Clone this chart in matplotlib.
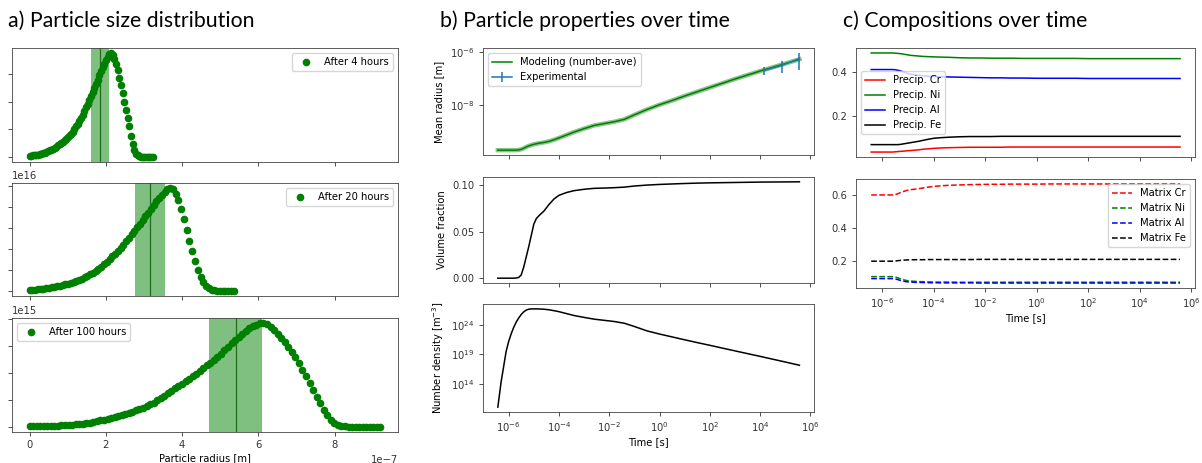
import numpy as np
import matplotlib
matplotlib.use('Agg')
import matplotlib.pyplot as plt
from matplotlib.ticker import MultipleLocator, NullLocator

FIG_W, FIG_H = 1202, 463

# ---- a) particle size distributions (relative height, peak = 1) ----
R_MAX = [3.23e-7, 5.35e-7, 9.2e-7]
PEAK = [3.76e17, 4.9e16, 7.7e15]
HOURS = [4, 20, 100]
MEAN_R = [1.85e-7, 3.16e-7, 5.40e-7]
SPREAD_R = [0.245e-7, 0.40e-7, 0.685e-7]

PSD_4H = [0.010, 0.012, 0.013, 0.015, 0.018, 0.021, 0.025, 0.029, 0.035, 0.040,
          0.047, 0.054, 0.062, 0.070, 0.079, 0.089, 0.099, 0.110, 0.121, 0.133,
          0.146, 0.160, 0.175, 0.191, 0.207, 0.225, 0.244, 0.267, 0.294, 0.320,
          0.347, 0.375, 0.407, 0.441, 0.477, 0.513, 0.549, 0.587, 0.627, 0.667,
          0.706, 0.746, 0.786, 0.825, 0.864, 0.900, 0.932, 0.963, 0.989, 1.000,
          0.980, 0.943, 0.895, 0.835, 0.765, 0.690, 0.612, 0.532, 0.452, 0.372,
          0.295, 0.200, 0.125, 0.065, 0.030, 0.013, 0.006, 0.003, 0.002, 0.001,
          0.001, 0.0, 0.0, 0.0, 0.0]
PSD_20H = [0.010, 0.011, 0.013, 0.016, 0.019, 0.022, 0.026, 0.030, 0.034, 0.039,
           0.044, 0.050, 0.056, 0.063, 0.071, 0.079, 0.088, 0.098, 0.108, 0.119,
           0.133, 0.146, 0.161, 0.177, 0.195, 0.215, 0.236, 0.260, 0.285, 0.310,
           0.336, 0.363, 0.391, 0.420, 0.451, 0.483, 0.516, 0.550, 0.584, 0.618,
           0.653, 0.688, 0.724, 0.760, 0.797, 0.834, 0.870, 0.905, 0.937, 0.965,
           0.988, 1.000, 0.988, 0.945, 0.885, 0.800, 0.700, 0.595, 0.490, 0.385,
           0.290, 0.205, 0.135, 0.082, 0.046, 0.024, 0.012, 0.006, 0.003, 0.002,
           0.001, 0.0, 0.0, 0.0, 0.0]
PSD_100H = [0.004, 0.004, 0.005, 0.006, 0.007, 0.008, 0.009, 0.010, 0.011, 0.013,
            0.015, 0.017, 0.020, 0.023, 0.026, 0.030, 0.035, 0.041, 0.047, 0.054,
            0.062, 0.070, 0.078, 0.086, 0.095, 0.104, 0.113, 0.123, 0.134, 0.146,
            0.158, 0.170, 0.183, 0.198, 0.215, 0.233, 0.254, 0.277, 0.301, 0.324,
            0.347, 0.370, 0.393, 0.416, 0.440, 0.465, 0.489, 0.513, 0.539, 0.565,
            0.591, 0.618, 0.646, 0.675, 0.706, 0.738, 0.771, 0.803, 0.835, 0.866,
            0.896, 0.924, 0.948, 0.968, 0.985, 0.996, 0.998, 0.987, 0.962, 0.930,
            0.895, 0.857, 0.815, 0.770, 0.722, 0.672, 0.615, 0.550, 0.485, 0.418,
            0.352, 0.288, 0.225, 0.165, 0.112, 0.070, 0.040, 0.022, 0.011, 0.006,
            0.003, 0.002, 0.001, 0.001, 0.0, 0.0, 0.0, 0.0, 0.0, 0.0]
PSD = [PSD_4H, PSD_20H, PSD_100H]

# ---- b) and c) time series, sampled on log10(time [s]) ----
LOG_TIME = [-6.43, -6.3, -6.2, -6.1, -6.0, -5.9, -5.8, -5.7, -5.6, -5.5,
            -5.4, -5.3, -5.2, -5.1, -5.0, -4.9, -4.8, -4.6, -4.4, -4.2,
            -4.0, -3.7, -3.4, -3.0, -2.6, -2.2, -1.8, -1.4, -1.0, -0.5,
            0.0, 0.5, 1.0, 1.5, 2.0, 2.5, 3.0, 3.5, 4.0, 4.5, 5.0, 5.56]

LOG_MEAN_RADIUS = [-9.70, -9.70, -9.70, -9.70, -9.70, -9.70, -9.70, -9.70, -9.69, -9.67,
                   -9.63, -9.58, -9.54, -9.51, -9.48, -9.46, -9.44, -9.41, -9.37, -9.31,
                   -9.24, -9.13, -9.02, -8.89, -8.77, -8.70, -8.63, -8.54, -8.37, -8.17,
                   -7.99, -7.83, -7.66, -7.50, -7.34, -7.18, -7.02, -6.87, -6.72, -6.58,
                   -6.44, -6.28]
VOLUME_FRACTION = [0.0, 0.0, 0.0, 0.0, 0.0, 0.0, 0.0, 0.0002, 0.0008, 0.0035,
                   0.012, 0.023, 0.034, 0.046, 0.058, 0.064, 0.067, 0.072, 0.079, 0.085,
                   0.089, 0.092, 0.094, 0.0955, 0.0965, 0.0968, 0.0972, 0.0978, 0.0990, 0.1000,
                   0.1007, 0.1012, 0.1017, 0.1021, 0.1024, 0.1026, 0.1028, 0.1030, 0.1032, 0.1033,
                   0.1034, 0.1035]
LOG_NUMBER_DENSITY = [10.0, 14.3, 16.9, 19.5, 21.2, 22.5, 23.6, 24.5, 25.2, 25.8,
                      26.25, 26.55, 26.7, 26.75, 26.75, 26.75, 26.74, 26.70, 26.60, 26.45,
                      26.28, 25.95, 25.62, 25.30, 25.0, 24.8, 24.6, 24.3, 23.75, 23.0,
                      22.46, 21.97, 21.48, 21.0, 20.54, 20.06, 19.59, 19.12, 18.65, 18.17,
                      17.69, 17.14]

EXP_TIME = [1.44e4, 7.2e4, 3.6e5]
EXP_RADIUS = [2.0e-7, 3.1e-7, 5.6e-7]
EXP_ERR = [0.7e-7, 1.5e-7, 3.6e-7]

PRECIP_CR = [0.034, 0.034, 0.034, 0.034, 0.034, 0.034, 0.034, 0.034, 0.034, 0.035,
             0.036, 0.037, 0.038, 0.039, 0.040, 0.041, 0.042, 0.044, 0.047, 0.049,
             0.051, 0.053, 0.054, 0.055, 0.056, 0.056, 0.056, 0.056, 0.057, 0.057,
             0.057, 0.057, 0.057, 0.057, 0.057, 0.057, 0.057, 0.057, 0.057, 0.057,
             0.057, 0.057]
PRECIP_NI = [0.488, 0.488, 0.488, 0.488, 0.488, 0.488, 0.488, 0.488, 0.488, 0.487,
             0.486, 0.485, 0.483, 0.481, 0.479, 0.477, 0.476, 0.474, 0.472, 0.471,
             0.470, 0.469, 0.468, 0.466, 0.465, 0.465, 0.464, 0.464, 0.464, 0.463,
             0.463, 0.463, 0.463, 0.463, 0.462, 0.462, 0.462, 0.462, 0.462, 0.462,
             0.462, 0.462]
PRECIP_AL = [0.412, 0.412, 0.412, 0.412, 0.412, 0.412, 0.412, 0.412, 0.412, 0.411,
             0.409, 0.406, 0.402, 0.398, 0.394, 0.391, 0.389, 0.386, 0.383, 0.381,
             0.380, 0.379, 0.378, 0.377, 0.376, 0.375, 0.374, 0.374, 0.373, 0.373,
             0.372, 0.372, 0.372, 0.372, 0.371, 0.371, 0.371, 0.371, 0.371, 0.371,
             0.371, 0.371]
PRECIP_FE = [0.068, 0.068, 0.068, 0.068, 0.068, 0.068, 0.068, 0.068, 0.068, 0.068,
             0.068, 0.069, 0.071, 0.073, 0.075, 0.077, 0.079, 0.083, 0.088, 0.093,
             0.097, 0.100, 0.102, 0.104, 0.105, 0.105, 0.105, 0.106, 0.106, 0.106,
             0.106, 0.106, 0.106, 0.106, 0.106, 0.106, 0.106, 0.106, 0.106, 0.106,
             0.106, 0.106]
MATRIX_CR = [0.603, 0.603, 0.603, 0.603, 0.603, 0.603, 0.603, 0.603, 0.603, 0.605,
             0.610, 0.617, 0.623, 0.628, 0.632, 0.635, 0.637, 0.641, 0.646, 0.651,
             0.655, 0.659, 0.662, 0.664, 0.666, 0.667, 0.668, 0.668, 0.669, 0.669,
             0.669, 0.670, 0.670, 0.670, 0.670, 0.670, 0.670, 0.670, 0.670, 0.670,
             0.670, 0.670]
MATRIX_NI = [0.106, 0.106, 0.106, 0.106, 0.106, 0.106, 0.106, 0.106, 0.106, 0.104,
             0.099, 0.093, 0.088, 0.084, 0.081, 0.079, 0.078, 0.076, 0.075, 0.074,
             0.073, 0.073, 0.073, 0.072, 0.072, 0.072, 0.072, 0.072, 0.072, 0.072,
             0.072, 0.072, 0.072, 0.072, 0.072, 0.072, 0.072, 0.072, 0.072, 0.072,
             0.072, 0.072]
MATRIX_AL = [0.094, 0.094, 0.094, 0.094, 0.094, 0.094, 0.094, 0.094, 0.094, 0.092,
             0.088, 0.083, 0.079, 0.076, 0.074, 0.073, 0.072, 0.071, 0.070, 0.069,
             0.069, 0.068, 0.068, 0.068, 0.068, 0.067, 0.067, 0.067, 0.067, 0.067,
             0.067, 0.067, 0.067, 0.067, 0.067, 0.067, 0.067, 0.067, 0.067, 0.067,
             0.067, 0.067]
MATRIX_FE = [0.200, 0.200, 0.200, 0.200, 0.200, 0.200, 0.200, 0.200, 0.200, 0.201,
             0.203, 0.205, 0.206, 0.207, 0.208, 0.208, 0.209, 0.209, 0.209, 0.210,
             0.210, 0.210, 0.210, 0.210, 0.210, 0.211, 0.211, 0.211, 0.211, 0.211,
             0.211, 0.211, 0.211, 0.211, 0.211, 0.211, 0.211, 0.211, 0.211, 0.211,
             0.211, 0.211]

ELEMENTS = ['Cr', 'Ni', 'Al', 'Fe']
ELEMENT_COLORS = ['r', 'g', 'b', 'k']
PRECIP = [PRECIP_CR, PRECIP_NI, PRECIP_AL, PRECIP_FE]
MATRIX = [MATRIX_CR, MATRIX_NI, MATRIX_AL, MATRIX_FE]


def px_axes(fig, left, top, right, bottom, **kw):
    """Add axes from pixel box (origin top-left)"""
    return fig.add_axes([left / FIG_W, 1 - bottom / FIG_H,
                         (right - left) / FIG_W, (bottom - top) / FIG_H], **kw)


plt.rcParams.update({
    'font.size': 7.2,
    'axes.linewidth': 0.6,
    'axes.edgecolor': '#444444',
    'lines.linewidth': 1.1,
    'lines.markersize': 4.5,
    'xtick.major.size': 2.6,
    'ytick.major.size': 2.6,
    'xtick.major.width': 0.6,
    'ytick.major.width': 0.6,
    'xtick.color': '#333333',
    'ytick.color': '#333333',
    'legend.fontsize': 7.2,
})

fig = plt.figure(figsize=(FIG_W / 100, FIG_H / 100), dpi=100)

# ---------- a) ----------
a_rows = [(48, 162), (183, 296), (318, 432)]
a_axes = []
for i, (top, bottom) in enumerate(a_rows):
    ax = px_axes(fig, 12, top, 398, bottom, sharex=a_axes[0] if a_axes else None)
    a_axes.append(ax)
    x = np.linspace(0, R_MAX[i], len(PSD[i]))
    y = np.array(PSD[i]) * PEAK[i]
    ax.axvspan(MEAN_R[i] - SPREAD_R[i], MEAN_R[i] + SPREAD_R[i], color='green', alpha=0.5, lw=0)
    ax.axvline(MEAN_R[i], color='#1f6f1f', lw=0.9)
    ax.plot(x, y, 'o', color='green', label=f'After {HOURS[i]} hours')
    ax.tick_params(labelleft=False)
    ax.legend(loc='upper left' if i == 2 else 'upper right')
    if i < 2:
        ax.tick_params(labelbottom=False)
        ax.xaxis.offsetText.set_visible(False)

a_axes[0].yaxis.set_major_locator(MultipleLocator(1e17))
a_axes[1].yaxis.set_major_locator(MultipleLocator(1e16))
a_axes[2].yaxis.set_major_locator(MultipleLocator(2e15))
a_axes[0].yaxis.offsetText.set_visible(False)
for ax in a_axes[1:]:
    ax.yaxis.offsetText.set_visible(True)
a_axes[2].xaxis.set_major_locator(MultipleLocator(2e-7))
a_axes[2].set_xlabel('Particle radius [m]', labelpad=2)

# ---------- b) ----------
time = 10 ** np.array(LOG_TIME)
b_rows = [(48, 155), (177, 283), (304, 412)]
b_axes = []
for top, bottom in b_rows:
    ax = px_axes(fig, 483, top, 814, bottom, sharex=b_axes[0] if b_axes else None)
    ax.set_xscale('log')
    b_axes.append(ax)

ax = b_axes[0]
radius = 10 ** np.array(LOG_MEAN_RADIUS)
ax.plot(time, radius, color='green', lw=3.2, alpha=0.45)
ax.plot(time, radius, color='green', label='Modeling (number-ave)')
ax.errorbar(EXP_TIME, EXP_RADIUS, yerr=EXP_ERR, color='#1f77b4', label='Experimental')
ax.set_yscale('log')
ax.set_yticks([1e-8, 1e-6])
ax.yaxis.set_minor_locator(NullLocator())
ax.set_ylabel('Mean radius [m]')
ax.legend(loc='upper left')

ax = b_axes[1]
ax.plot(time, VOLUME_FRACTION, color='k')
ax.yaxis.set_major_locator(MultipleLocator(0.05))
ax.set_ylabel('Volume fraction')

ax = b_axes[2]
ax.plot(time, 10 ** np.array(LOG_NUMBER_DENSITY), color='k')
ax.set_yscale('log')
ax.set_yticks([1e14, 1e19, 1e24])
ax.yaxis.set_minor_locator(NullLocator())
ax.set_ylabel('Number density [m$^{-3}$]')
ax.set_xlabel('Time [s]', labelpad=2)

for ax in b_axes[:2]:
    ax.tick_params(labelbottom=False)

# ---------- c) ----------
c_top = px_axes(fig, 856, 48, 1195, 157)
c_bot = px_axes(fig, 856, 179, 1195, 288, sharex=c_top)
for el, col, yp, ym in zip(ELEMENTS, ELEMENT_COLORS, PRECIP, MATRIX):
    c_top.plot(time, yp, color=col, label=f'Precip. {el}')
    c_bot.plot(time, ym, '--', color=col, label=f'Matrix {el}')
c_top.set_xscale('log')
c_top.legend(loc='center left')
c_bot.legend(loc='upper right')
c_top.tick_params(labelbottom=False)
for ax in (c_top, c_bot):
    ax.yaxis.set_major_locator(MultipleLocator(0.2))
c_bot.set_xlabel('Time [s]', labelpad=2)

for ax in b_axes + [c_top, c_bot]:
    ax.set_xticks([1e-6, 1e-4, 1e-2, 1e0, 1e2, 1e4, 1e6])
    ax.xaxis.set_minor_locator(NullLocator())
    ax.set_xlim(10 ** -7.02, 10 ** 6.14)

# panel titles
title_kw = dict(fontsize=15.3, family=['Lato', 'DejaVu Sans'], va='baseline', ha='left')
fig.text(8 / FIG_W, 1 - 27 / FIG_H, 'a) Particle size distribution', **title_kw)
fig.text(440 / FIG_W, 1 - 27 / FIG_H, 'b) Particle properties over time', **title_kw)
fig.text(843 / FIG_W, 1 - 27 / FIG_H, 'c) Compositions over time', **title_kw)

fig.savefig('out.png', dpi=100)
